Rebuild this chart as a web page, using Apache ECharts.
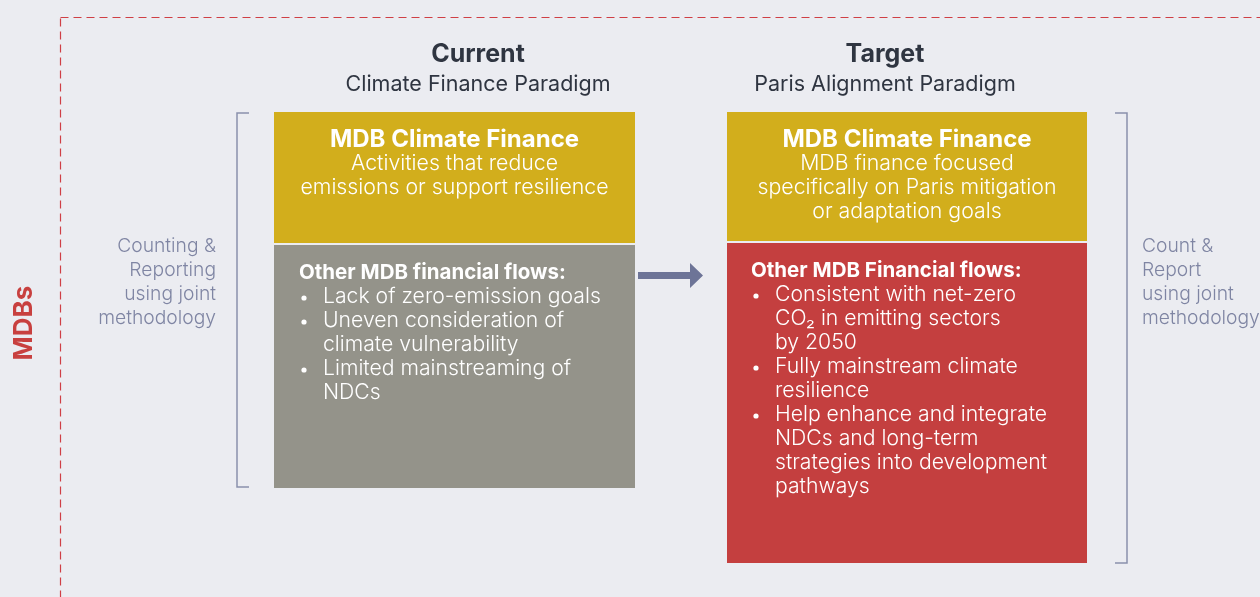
<!DOCTYPE html>
<html>
<head>
<meta charset="utf-8">
<script src="https://cdn.jsdelivr.net/npm/echarts@6/dist/echarts.min.js"></script>
<style>
  html, body { margin: 0; padding: 0; background: #ebecf1; }
  #main { width: 1260px; height: 597px; }
</style>
</head>
<body>
<div id="main"></div>
<script>
// texts of the diagram
var sideLabel = 'MDBs';
var columnTitles = ['Current', 'Target'];
var columnSubtitles = ['Climate Finance Paradigm', 'Paris Alignment Paradigm'];
var topTitles = ['MDB Climate Finance', 'MDB Climate Finance'];
var topLines = [
  ['Activities that reduce', 'emissions or support resilience'],
  ['MDB finance focused', 'specifically on Paris mitigation', 'or adaptation goals']
];
var flowHeads = ['Other MDB financial flows:', 'Other MDB Financial flows:'];
// each bullet is a list of wrapped lines
var flowBullets = [
  [['Lack of zero-emission goals'], ['Uneven consideration of', 'climate vulnerability'], ['Limited mainstreaming of', 'NDCs']],
  [['Consistent with net-zero', 'CO\u2082 in emitting sectors', 'by 2050'], ['Fully mainstream climate', 'resilience'], ['Help enhance and integrate', 'NDCs and long-term', 'strategies into development', 'pathways']]
];
var bracketLabels = [
  ['Counting &', 'Reporting', 'using joint', 'methodology'],
  ['Count &', 'Report', 'using joint', 'methodology']
];

var FONT = 'Inter, "Noto Sans", sans-serif';
var myChart = echarts.init(document.getElementById('main'));

// layout of the two columns
var cols = [
  { x: 274, w: 361, titleX: 478, topY: 112, topH: 131, lowY: 245, lowH: 243, lowColor: '#94938a', textX: 299 },
  { x: 727, w: 360, titleX: 885, topY: 112, topH: 129, lowY: 243, lowH: 320, lowColor: '#c43f3f', textX: 751 }
];
var LH = 24;
var els = [];

function txt(s, x, y, size, weight, fill, align) {
  els.push({
    type: 'text',
    style: { text: s, x: x, y: y + 1, font: weight + ' ' + size + 'px ' + FONT, fill: fill, align: align || 'left', verticalAlign: 'middle' }
  });
}

// dashed frame
els.push({ type: 'rect', shape: { x: 60.5, y: 17.5, width: 1300, height: 700 }, style: { fill: 'none', stroke: '#cf3f45', lineWidth: 1.2, lineDash: [8, 5] } });

// side label
els.push({
  type: 'text', x: 24, y: 323, rotation: Math.PI / 2,
  style: { text: sideLabel, x: 0, y: 0, font: 'bold 26px ' + FONT, fill: '#c8403f', align: 'center', verticalAlign: 'middle' }
});

cols.forEach(function (c, i) {
  var cx = c.x + c.w / 2;
  txt(columnTitles[i], c.titleX, 53, 25, 'bold', '#2f3541', 'center');
  txt(columnSubtitles[i], c.titleX, 84, 21.5, 'normal', '#2f3541', 'center');

  els.push({ type: 'rect', shape: { x: c.x, y: c.topY, width: c.w, height: c.topH }, style: { fill: '#d2ae1c' } });
  els.push({ type: 'rect', shape: { x: c.x, y: c.lowY, width: c.w, height: c.lowH }, style: { fill: c.lowColor } });

  txt(topTitles[i], cx, 139, 24, 'bold', '#ffffff', 'center');
  topLines[i].forEach(function (l, k) {
    txt(l, cx, 163 + k * LH, 21.3, '300', '#ffffff', 'center');
  });

  var y = c.lowY + 27;
  txt(flowHeads[i], c.textX, y, 20.5, 'bold', '#ffffff', 'left');
  flowBullets[i].forEach(function (b) {
    b.forEach(function (l, k) {
      y += LH;
      if (k === 0) {
        els.push({ type: 'circle', shape: { cx: c.textX + 5, cy: y + 2, r: 2.6 }, style: { fill: '#ffffff' } });
      }
      txt(l, c.textX + 24, y, 21.2, '300', '#ffffff', 'left');
    });
  });
});

// brackets
els.push({ type: 'polyline', shape: { points: [[249, 113], [237, 113], [237, 487], [249, 487]] }, style: { stroke: '#8a90ac', lineWidth: 1.5, fill: 'none' } });
els.push({ type: 'polyline', shape: { points: [[1115, 113], [1127, 113], [1127, 563], [1115, 563]] }, style: { stroke: '#8a90ac', lineWidth: 1.5, fill: 'none' } });

bracketLabels[0].forEach(function (l, k) {
  txt(l, 216, 245 + k * LH, 19.3, '300', '#7f85a3', 'right');
});
bracketLabels[1].forEach(function (l, k) {
  txt(l, 1142, 245 + k * LH, 19.3, '300', '#7f85a3', 'left');
});

// arrow
els.push({
  type: 'polygon',
  shape: { points: [[638, 272], [690, 272], [690, 263], [703, 275.5], [690, 288], [690, 279], [638, 279]] },
  style: { fill: '#6d7497' }
});

var option = {
  backgroundColor: '#ebecf1',
  animation: false,
  graphic: { elements: els }
};
myChart.setOption(option);
</script>
</body>
</html>
